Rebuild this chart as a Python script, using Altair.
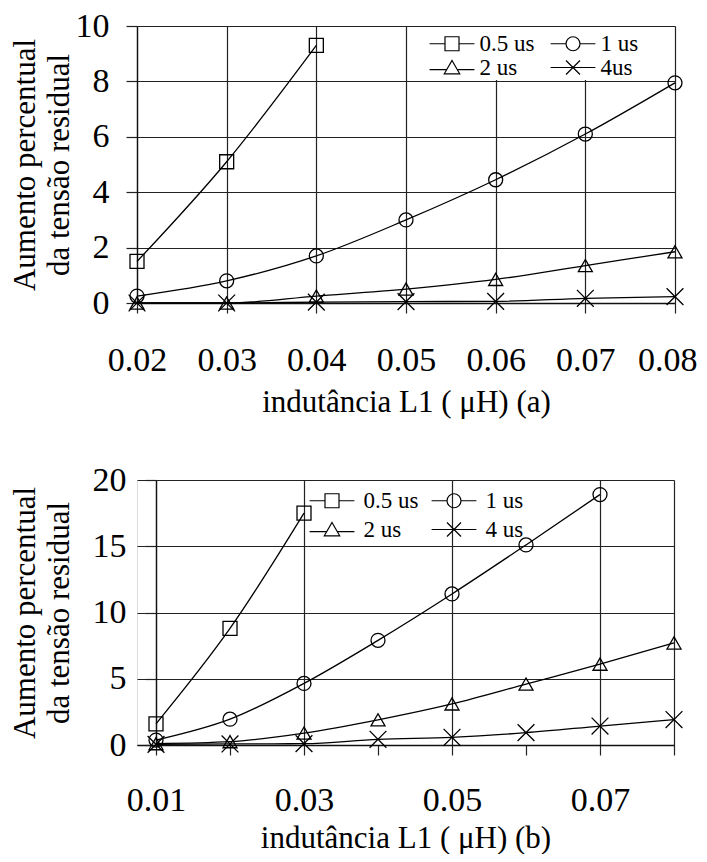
import altair as alt
import pandas as pd

# ---------- data ----------
series_a = ["0.5 us", "1 us", "2 us", "4us"]
series_b = ["0.5 us", "1 us", "2 us", "4 us"]

x_a = [0.02, 0.03, 0.04, 0.05, 0.06, 0.07, 0.08]
a_05 = [1.5, 5.1, 9.3]
a_1 = [0.25, 0.8, 1.7, 3.0, 4.45, 6.1, 7.95]
a_2 = [0.0, 0.0, 0.25, 0.5, 0.85, 1.35, 1.85]
a_4 = [0.0, 0.0, 0.03, 0.05, 0.06, 0.17, 0.23]

x_b = [0.01, 0.02, 0.03, 0.04, 0.05, 0.06, 0.07, 0.08]
b_05 = [1.6, 8.8, 17.5]
b_1 = [0.37, 1.95, 4.65, 7.9, 11.4, 15.1, 18.9]
b_2 = [0.1, 0.25, 0.9, 1.9, 3.1, 4.6, 6.1, 7.7]
b_4 = [0.05, 0.08, 0.1, 0.43, 0.58, 0.93, 1.43, 1.92]

y_ticks_a = [0, 2, 4, 6, 8, 10]
y_ticks_b = [0, 5, 10, 15, 20]

FONT = "Liberation Serif"
LAST_TICK = "datum.value > 0.0795"
ODD_OR_LAST = "round(datum.value * 100) % 2 == 1 || datum.value > 0.0795"


def make_df(xs, names, vals):
    rows = []
    for name, v in zip(names, vals):
        for x, y in zip(xs, v):
            rows.append({"L": x, "V": y, "S": name, "Leg": name})
    return pd.DataFrame(rows)


df_a = make_df(x_a, series_a, [a_05, a_1, a_2, a_4])
df_b = make_df(x_b, series_b, [b_05, b_1, b_2, b_4])

X_PATH = "M-1.2,-1.2L1.2,1.2M-1.2,1.2L1.2,-1.2"
LEG_PATHS = [
    "M-3.2,0H-1M1,0H3.2M-1,-1H1V1H-1Z",
    "M-3.2,0H-1M1,0H3.2M1,0A1,1,0,1,1,-1,0A1,1,0,1,1,1,0Z",
    "M-3.2,0.3H-0.75M0.75,0.3H3.2M0,-1L1.1,0.9H-1.1Z",
    "M-3.2,0H3.2M-1,-1L1,1M-1,1L1,-1",
]


def panel(df, names, xdom, ydom, xvals, yvals, xtitle, w, h,
          label_expr, grid_test, last_shift, yoffset,
          legx, legy, colpad, rowpad, legpad, legfill, laboff,
          ylabpad, ytitlepad, xlabpad, xtitlepad):
    xaxis = alt.Axis(
        values=xvals, format=".2f", labelExpr=label_expr, labelFlush=False,
        labelAlign={"condition": {"test": LAST_TICK, "value": "right" if last_shift else "center"},
                    "value": "center"},
        labelOffset={"condition": {"test": LAST_TICK, "value": last_shift}, "value": 0},
        labelFont=FONT, labelFontSize=34, labelColor="black",
        labelPadding=xlabpad, tickSize=10, tickColor="#222", tickWidth=1.2,
        domainColor="#111", domainWidth=1.3,
        grid=True, gridColor="#222", gridWidth=1.2,
        gridOpacity={"condition": {"test": grid_test, "value": 1}, "value": 0},
        title=xtitle, titleFont=FONT, titleFontSize=31,
        titleFontWeight="normal", titleColor="black", titlePadding=xtitlepad,
    )
    yaxis = alt.Axis(
        values=yvals, format="d", labelFlush=False, offset=yoffset,
        labelFont=FONT, labelFontSize=34, labelColor="black",
        labelPadding=ylabpad, tickSize=11, tickColor="#222", tickWidth=1.2,
        domainColor="#111", domainWidth=1.3,
        grid=True, gridColor="#222", gridWidth=1.2,
        title=["Aumento percentual", "da tensão residual"],
        titleFont=FONT, titleFontSize=31, titleFontWeight="normal",
        titleColor="black", titleLineHeight=34, titlePadding=ytitlepad,
    )
    xenc = alt.X("L:Q", scale=alt.Scale(domain=xdom, nice=False, zero=False), axis=xaxis)
    yenc = alt.Y("V:Q", scale=alt.Scale(domain=ydom, nice=False), axis=yaxis)

    lines = alt.Chart(df).mark_line(
        interpolate="monotone", color="black", strokeWidth=1.3
    ).encode(x=xenc, y=yenc, detail="S:N")

    points = alt.Chart(df).mark_point(
        filled=False, color="black", strokeWidth=1.3, size=196, opacity=1
    ).encode(
        x=xenc, y=yenc,
        shape=alt.Shape(
            "S:N",
            scale=alt.Scale(domain=names, range=["square", "circle", "triangle-up", X_PATH]),
            legend=None,
        ),
    )

    legend = alt.Legend(
        title=" ", titleFontSize=5, titlePadding=0,
        orient="none", legendX=legx, legendY=legy, direction="horizontal",
        columns=2, columnPadding=colpad, rowPadding=rowpad,
        labelFont=FONT, labelFontSize=23, labelColor="black",
        symbolSize=196, symbolOffset=15.5, labelOffset=laboff,
        symbolStrokeColor="black", symbolStrokeWidth=1.2, symbolOpacity=1,
        symbolFillColor="transparent", padding=legpad, fillColor=legfill,
    )
    legend_layer = alt.Chart(df).mark_point(
        filled=False, color="black", strokeWidth=1.2, size=196, opacity=0
    ).encode(
        x=xenc, y=yenc,
        shape=alt.Shape(
            "Leg:N",
            scale=alt.Scale(domain=names, range=LEG_PATHS),
            legend=legend,
        ),
    )
    return alt.layer(lines, points, legend_layer).resolve_scale(
        shape="independent"
    ).properties(width=w, height=h)


top = panel(
    df_a, series_a, [0.02, 0.08], [0, 10], x_a, y_ticks_a,
    "indutância L1 ( μH) (a)", 538, 277,
    "format(datum.value, '.2f')", "true", 22, 0,
    288, 1, 11, 0, 0, "white", 16,
    17, 0, 30, 10,
)
# bottom panel: its y axis sits 19 px inside the shared left edge
bottom = panel(
    df_b, series_b, [0.007432, 0.08], [0, 20], x_b, y_ticks_b,
    "indutância L1 ( μH) (b)", 537, 265,
    "round(datum.value * 100) % 2 == 1 ? format(datum.value, '.2f') : ''",
    ODD_OR_LAST, 0, -19,
    164, 0, 8, 5, 4, "transparent", 20,
    19, 17, 28, 6,
)

chart = alt.concat(
    top, bottom, columns=1, spacing=177, bounds="flush"
).properties(
    padding={"left": 0, "top": 0, "right": 0, "bottom": 0}
).configure_view(
    strokeWidth=0
).configure(background="white")

chart.save("out.html", embed_options={"renderer": "svg", "actions": False})
